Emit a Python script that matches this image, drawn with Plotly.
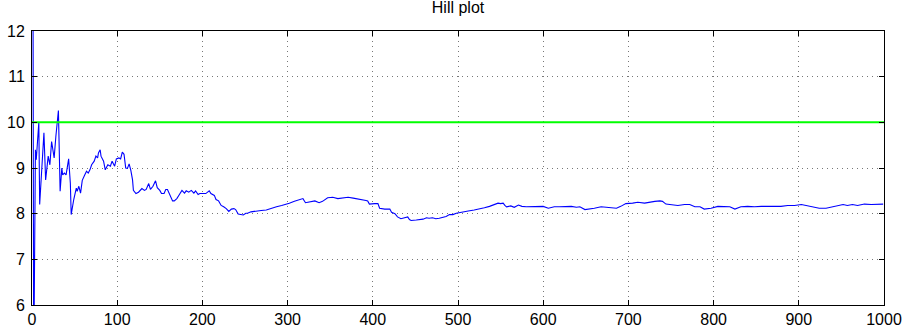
import plotly.graph_objects as go

# Hill estimator as a function of the number of order statistics k
k = [1, 2, 4, 5, 8, 9, 14, 16, 19, 21, 23, 26, 28, 30, 31, 33, 35, 36, 38, 40,
     43, 45, 46, 49, 52, 53, 55, 57, 59, 62, 64, 66, 68, 70, 73, 75, 77, 78, 80, 81,
     84, 86, 89, 92, 94, 97, 99, 102, 104, 106, 108, 110, 112, 114, 116, 118, 119, 122, 125, 129,
     132, 134, 137, 139, 142, 145, 147, 150, 152, 155, 157, 159, 162, 165, 167, 170, 173, 176, 179, 181,
     184, 187, 190, 192, 195, 197, 201, 204, 208, 210, 214, 216, 219, 222, 225, 228, 231, 234, 237, 239,
     242, 248, 251, 253, 257, 263, 269, 275, 281, 287, 293, 298, 302, 308, 314, 318, 321, 326, 332, 337,
     341, 347, 353, 359, 365, 371, 377, 381, 384, 388, 392, 394, 396, 402, 406, 408, 414, 420, 422, 426,
     429, 433, 437, 441, 443, 445, 451, 455, 459, 463, 466, 470, 474, 478, 486, 490, 494, 498, 502, 506,
     512, 519, 525, 531, 537, 543, 547, 550, 553, 555, 557, 562, 566, 571, 575, 580, 588, 593, 600, 606,
     613, 619, 627, 633, 639, 643, 649, 654, 660, 668, 678, 686, 691, 697, 705, 711, 719, 724, 731, 737,
     740, 744, 752, 758, 766, 772, 778, 784, 789, 797, 805, 813, 819, 825, 832, 840, 848, 856, 864, 872,
     879, 887, 895, 903, 909, 916, 924, 932, 940, 946, 952, 957, 963, 969, 977, 985, 993, 999]

hill = [15.0, 4.5, 9.40, 9.18, 10.0, 8.20, 9.77, 8.74, 9.26, 9.07, 9.58, 9.22, 9.69, 10.0, 10.26, 8.49, 9.00, 8.85, 8.89, 8.85,
        9.20, 8.67, 7.98, 8.31, 8.56, 8.49, 8.60, 8.45, 8.73, 8.85, 8.93, 8.89, 8.96, 9.07, 9.15, 9.26, 9.22, 9.33, 9.40, 9.26,
        9.15, 8.96, 9.07, 9.04, 9.15, 9.04, 9.20, 9.22, 9.20, 9.35, 9.30, 9.00, 8.99, 9.09, 8.95, 8.74, 8.51, 8.44, 8.47, 8.55,
        8.51, 8.53, 8.66, 8.53, 8.60, 8.72, 8.57, 8.51, 8.44, 8.44, 8.53, 8.53, 8.40, 8.28, 8.28, 8.33, 8.42, 8.51, 8.45, 8.50,
        8.47, 8.51, 8.45, 8.50, 8.42, 8.44, 8.44, 8.44, 8.50, 8.44, 8.40, 8.31, 8.28, 8.18, 8.15, 8.11, 8.05, 8.10, 8.11, 8.09,
        7.99, 7.97, 8.01, 8.01, 8.04, 8.06, 8.07, 8.08, 8.12, 8.15, 8.18, 8.20, 8.23, 8.27, 8.31, 8.33, 8.24, 8.26, 8.28, 8.24,
        8.27, 8.35, 8.36, 8.33, 8.34, 8.36, 8.34, 8.33, 8.31, 8.31, 8.29, 8.28, 8.21, 8.22, 8.22, 8.12, 8.10, 8.10, 8.03, 8.00,
        7.93, 7.89, 7.91, 7.93, 7.87, 7.85, 7.86, 7.87, 7.88, 7.91, 7.90, 7.91, 7.89, 7.90, 7.94, 7.98, 7.98, 8.01, 8.02, 8.03,
        8.06, 8.08, 8.10, 8.13, 8.16, 8.20, 8.23, 8.22, 8.23, 8.18, 8.15, 8.17, 8.14, 8.19, 8.16, 8.15, 8.15, 8.16, 8.16, 8.12,
        8.15, 8.15, 8.15, 8.16, 8.14, 8.15, 8.09, 8.10, 8.12, 8.15, 8.14, 8.12, 8.16, 8.22, 8.23, 8.25, 8.23, 8.25, 8.27, 8.28,
        8.27, 8.21, 8.20, 8.18, 8.20, 8.20, 8.15, 8.15, 8.10, 8.12, 8.16, 8.16, 8.15, 8.10, 8.15, 8.16, 8.15, 8.16, 8.16, 8.16,
        8.16, 8.18, 8.18, 8.20, 8.18, 8.16, 8.12, 8.12, 8.15, 8.18, 8.20, 8.18, 8.20, 8.18, 8.21, 8.20, 8.20, 8.21]

# true tail index reference level
true_alpha = 10
x_range = [0, 1000]
y_range = [6, 12]
x_ticks = list(range(0, 1001, 100))
y_ticks = list(range(6, 13))

font_family = "Liberation Sans, Arial, sans-serif"

fig = go.Figure()
fig.add_trace(go.Scatter(
    x=k, y=hill, mode="lines",
    line=dict(color="#0000ff", width=1.1),
    showlegend=False,
))
fig.add_trace(go.Scatter(
    x=x_range, y=[true_alpha, true_alpha], mode="lines",
    line=dict(color="#00ff00", width=2),
    showlegend=False,
))

axis_common = dict(
    showline=True, linecolor="black", linewidth=1, mirror="allticks",
    ticks="inside", ticklen=5, tickcolor="black",
    showgrid=True, gridcolor="#777777", griddash="1px,4px", gridwidth=1,
    zeroline=False, automargin=False,
    tickfont=dict(family=font_family, size=16, color="black"),
)

fig.update_xaxes(range=x_range, tickvals=x_ticks, ticklabelstandoff=0, **axis_common)
fig.update_yaxes(range=y_range, tickvals=y_ticks, ticklabelstandoff=3, **axis_common)

fig.update_layout(
    width=911, height=330,
    margin=dict(l=32, r=27, t=31, b=25, autoexpand=False),
    paper_bgcolor="white", plot_bgcolor="white",
    title=dict(text="Hill plot", x=0.5, xref="paper", xanchor="center",
               y=1, yref="container", yanchor="top", pad=dict(t=2),
               automargin=False,
               font=dict(family=font_family, size=16, color="black")),
)

fig.write_html("out.html")
